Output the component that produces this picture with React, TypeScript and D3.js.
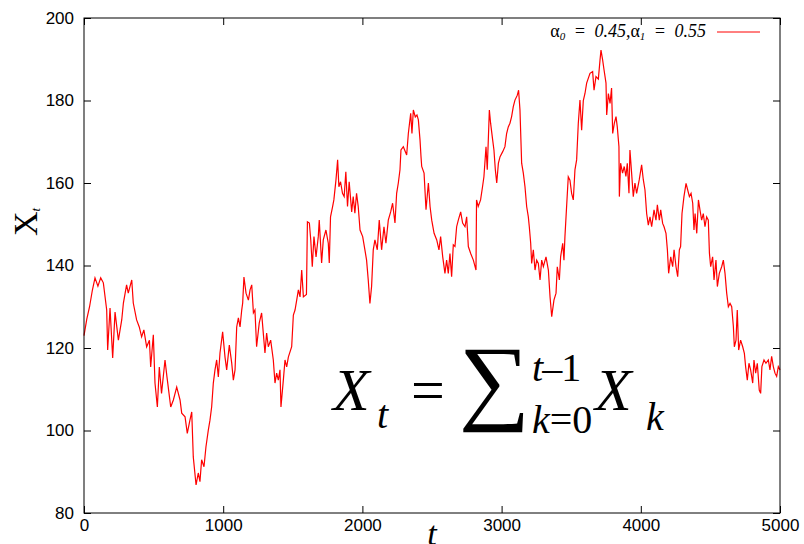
import React, { useEffect, useRef } from 'react';
import * as d3 from 'd3';

// time steps and X_t
const steps = [
  0, 20, 40, 60, 79, 100, 120, 139, 163, 170, 187, 206, 223, 247, 271, 283, 306, 318, 343, 354,
  378, 397, 414, 430, 450, 470, 479, 498, 510, 527, 541, 557, 582, 596, 623, 642, 666, 690, 702, 726,
  742, 761, 774, 785, 805, 821, 833, 845, 862, 876, 893, 905, 917, 929, 941, 953, 965, 977, 996, 1013,
  1025, 1044, 1061, 1073, 1085, 1097, 1109, 1121, 1133, 1140, 1149, 1164, 1181, 1193, 1205, 1217, 1228, 1240, 1259, 1276,
  1288, 1300, 1312, 1324, 1341, 1360, 1372, 1384, 1396, 1408, 1415, 1432, 1444, 1456, 1468, 1492, 1504, 1516, 1528, 1540,
  1552, 1564, 1576, 1598, 1605, 1619, 1629, 1640, 1652, 1667, 1683, 1690, 1707, 1719, 1738, 1755, 1762, 1771, 1786, 1795,
  1810, 1822, 1831, 1843, 1857, 1869, 1881, 1893, 1905, 1923, 1934, 1946, 1958, 1970, 1983, 2002, 2018, 2030, 2042, 2054,
  2066, 2078, 2090, 2107, 2121, 2138, 2155, 2169, 2186, 2203, 2217, 2234, 2246, 2258, 2270, 2277, 2294, 2318, 2330, 2347,
  2356, 2366, 2380, 2392, 2402, 2414, 2421, 2426, 2443, 2457, 2474, 2486, 2498, 2515, 2534, 2550, 2562, 2577, 2593, 2605,
  2617, 2629, 2641, 2653, 2665, 2677, 2689, 2706, 2720, 2737, 2749, 2761, 2778, 2797, 2816, 2820, 2832, 2849, 2863, 2873,
  2888, 2897, 2912, 2921, 2936, 2945, 2955, 2965, 2977, 2989, 3008, 3024, 3036, 3048, 3060, 3072, 3084, 3096, 3113, 3122,
  3132, 3144, 3156, 3168, 3180, 3192, 3199, 3209, 3216, 3228, 3240, 3252, 3264, 3276, 3288, 3300, 3319, 3336, 3348, 3360,
  3376, 3391, 3400, 3415, 3424, 3439, 3448, 3455, 3467, 3479, 3491, 3503, 3515, 3527, 3539, 3551, 3563, 3575, 3587, 3599,
  3611, 3635, 3654, 3664, 3678, 3695, 3707, 3714, 3726, 3736, 3750, 3755, 3767, 3779, 3790, 3798, 3810, 3822, 3831, 3843,
  3846, 3855, 3869, 3881, 3893, 3903, 3915, 3922, 3934, 3946, 3958, 3970, 3989, 4006, 4018, 4030, 4042, 4054, 4066, 4078,
  4095, 4109, 4119, 4133, 4143, 4157, 4167, 4181, 4191, 4200, 4215, 4229, 4239, 4253, 4265, 4277, 4286, 4296, 4310, 4325,
  4337, 4349, 4361, 4373, 4382, 4390, 4402, 4414, 4425, 4437, 4449, 4461, 4473, 4485, 4493, 4502, 4516, 4526, 4540, 4550,
  4564, 4581, 4593, 4605, 4617, 4629, 4641, 4653, 4665, 4672, 4684, 4693, 4703, 4717, 4732, 4744, 4753, 4765, 4777, 4789,
  4804, 4813, 4825, 4837, 4851, 4861, 4870, 4885, 4899, 4916, 4928, 4940, 4952, 4964, 4976, 4988, 5000,
];

const walk = [
  123, 127, 130, 134, 137, 135, 137, 135.8, 129.2, 119.5, 129.7, 117.6, 128.7, 121.9, 126.8, 130.9, 135.3, 133.3, 136.5, 130.9,
  126.8, 125.1, 122.7, 124.4, 120.3, 121.9, 115.4, 123.2, 111.5, 105.7, 115.4, 109, 117.1, 113, 105.7, 107.4, 110.5, 107.4, 104.2, 103.3,
  99.3, 102.5, 104.5, 93.6, 86.8, 89.7, 87.6, 92.9, 91.2, 96, 100.1, 102.5, 105.7, 111.5, 114.7, 117.1, 113, 118.8, 123.9, 117.8,
  114.7, 120.7, 116.4, 112.2, 114.7, 125.1, 127.3, 125.1, 129.2, 130.9, 137.2, 133.3, 131.6, 134.1, 135.3, 128.5, 129.2, 120.3, 126.1, 128.5,
  123.6, 118.8, 123.6, 120.3, 121.9, 117.1, 111.5, 113.9, 112.2, 114.7, 105.7, 112.2, 117.1, 115.4, 117.8, 120.3, 128, 129.2, 131.6, 134.1,
  132.4, 138.9, 132.4, 133, 150.6, 150.3, 146.2, 139.7, 147, 142.1, 147, 151, 140.6, 146.2, 148.6, 145.4, 140.6, 151.8, 154.3, 155.9,
  160.7, 165.6, 159.1, 160.3, 157.5, 156.7, 162.7, 154.3, 160.3, 153, 156.7, 152.7, 157.5, 154.3, 148.6, 147, 143.8, 141.3, 136.5, 130.8,
  134.9, 143.8, 146.2, 143.8, 151, 143.8, 149.4, 145.4, 151, 153, 155.1, 150.3, 157.5, 160, 163.2, 168, 168.8, 166.8, 172, 176.9,
  172, 177.7, 176, 176.5, 175.3, 170.4, 166.4, 164, 162.4, 153.5, 160, 154.3, 151, 147.8, 146.2, 143.8, 147, 142.1, 138.1, 141.3,
  138.1, 142.9, 137.3, 145, 144.6, 149.4, 151, 153, 150.3, 149.4, 151.8, 144.6, 142.9, 141.3, 138.9, 155.9, 154.3, 155.9, 159.1, 161.5,
  168.8, 163.2, 177.7, 174.5, 170.4, 168, 163.2, 160, 164.8, 166.4, 167.6, 168.8, 172, 173.6, 174.5, 176.1, 178.5, 180.1, 181.3, 182.5,
  177.7, 164.8, 162.4, 159.1, 154.3, 151.8, 149.4, 145.4, 140.5, 143.8, 138.9, 141.3, 140.5, 136.5, 141.3, 139.7, 142.1, 138.9, 132.4, 127.6,
  131.6, 133.3, 139.7, 136.5, 142.1, 145.4, 141.3, 147, 154.3, 161.5, 160.7, 157.5, 155.9, 163.2, 165.6, 174.5, 180.1, 172.8, 180, 181.7,
  184.2, 186.6, 187, 182.5, 185.8, 185.2, 189.8, 192.2, 189.8, 187.4, 184.2, 176.5, 181.7, 179.3, 183, 172, 174.5, 176.1, 173.6, 168.8,
  156.7, 164.8, 162.4, 164, 161.6, 164.8, 157.5, 168, 162.4, 156.7, 160, 157.5, 160.8, 164.4, 160.8, 158.3, 152.6, 149.8, 151.8, 149.4,
  153.5, 151, 154.7, 151, 153.5, 150.2, 149.4, 147.8, 143.8, 138.1, 142.1, 139.7, 143.8, 139.7, 137.3, 143.8, 144.6, 152.6, 156.7, 159.9,
  158.3, 156.7, 157.5, 155.1, 148.6, 152.6, 147.8, 155.9, 153.5, 151, 152.6, 149.4, 151.8, 151, 143, 139.7, 142.1, 136.5, 141.3, 134.9,
  138.1, 139.7, 141.3, 138.1, 133.3, 130, 130.8, 130, 125.2, 120.3, 121.9, 129.2, 119.5, 121.9, 120.3, 118.7, 115.5, 112.2, 116.3, 114.7,
  111.5, 117.1, 113.9, 116.3, 109.8, 109, 115.5, 117.1, 116.3, 117.1, 114.7, 118, 115.5, 113.9, 113.1, 115.5, 114.7,
];

const xTicks = [0, 1000, 2000, 3000, 4000, 5000];
const yTicks = [80, 100, 120, 140, 160, 180, 200];

const W = 804;
const H = 544;
const left = 84, right = 780, top = 18, bottom = 513;
const serif = '"Liberation Serif", "Times New Roman", serif';
const sans = '"Liberation Sans", Arial, sans-serif';

export default function App() {
  const ref = useRef<SVGSVGElement>(null);

  useEffect(() => {
    if (!ref.current) return;
    const svg = d3.select(ref.current);
    svg.selectAll('*').remove();

    const x = d3.scaleLinear().domain([0, 5000]).range([left, right]);
    const y = d3.scaleLinear().domain([80, 200]).range([bottom, top]);

    const styleAxis = (g: any) => {
      g.select('.domain').remove();
      g.selectAll('line').attr('stroke', '#000').attr('stroke-width', 1);
      g.selectAll('text').attr('font-family', sans).attr('font-size', 17).attr('fill', '#000');
    };

    svg.append('g').attr('transform', `translate(0,${bottom})`)
      .call(d3.axisBottom(x).tickValues(xTicks).tickSize(-7).tickPadding(6).tickFormat(d3.format('d')))
      .call(styleAxis);
    svg.append('g').attr('transform', `translate(0,${top})`)
      .call(d3.axisTop(x).tickValues(xTicks).tickSize(-7).tickFormat(() => ''))
      .call(styleAxis);
    svg.append('g').attr('transform', `translate(${left},0)`)
      .call(d3.axisLeft(y).tickValues(yTicks).tickSize(-7).tickPadding(10).tickFormat(d3.format('d')))
      .call(styleAxis);
    svg.append('g').attr('transform', `translate(${right},0)`)
      .call(d3.axisRight(y).tickValues(yTicks).tickSize(-7).tickFormat(() => ''))
      .call(styleAxis);

    const line = d3.line<number>()
      .x((_, i) => x(steps[i]))
      .y(d => y(d));

    svg.append('path')
      .datum(walk)
      .attr('d', line)
      .attr('fill', 'none')
      .attr('stroke', '#ff0000')
      .attr('stroke-width', 1.2);

    svg.append('rect')
      .attr('x', left).attr('y', top)
      .attr('width', right - left).attr('height', bottom - top)
      .attr('fill', 'none').attr('stroke', '#000').attr('stroke-width', 1);

    // legend
    const lg = svg.append('text')
      .attr('x', 706).attr('y', 37)
      .attr('text-anchor', 'end')
      .attr('word-spacing', 4)
      .attr('font-family', serif).attr('font-size', 18).attr('fill', '#000');
    lg.append('tspan').text('α');
    lg.append('tspan').attr('font-size', 11).attr('font-style', 'italic').attr('dy', 3).text('0');
    lg.append('tspan').attr('font-style', 'italic').attr('dy', -3).text(' = 0.45,');
    lg.append('tspan').text('α');
    lg.append('tspan').attr('font-size', 11).attr('font-style', 'italic').attr('dy', 3).text('1');
    lg.append('tspan').attr('font-style', 'italic').attr('dy', -3).text(' = 0.55');
    svg.append('line')
      .attr('x1', 717).attr('x2', 760).attr('y1', 32).attr('y2', 32)
      .attr('stroke', '#ff0000').attr('stroke-width', 1);

    // axis titles
    const yl = svg.append('text')
      .attr('transform', 'translate(37,236) rotate(-90)')
      .attr('font-family', serif).attr('font-size', 34);
    yl.append('tspan').text('X');
    yl.append('tspan').attr('font-size', 13).attr('font-style', 'italic').attr('dy', 3).text('t');

    svg.append('text')
      .attr('x', 432).attr('y', 545)
      .attr('text-anchor', 'middle')
      .attr('font-family', serif).attr('font-size', 34).attr('font-style', 'italic')
      .text('t');

    // formula
    const f = svg.append('g').attr('font-family', serif).attr('fill', '#000');
    f.append('text').attr('x', 333).attr('y', 410).attr('font-size', 60).attr('font-style', 'italic').text('X');
    f.append('text').attr('x', 377).attr('y', 428).attr('font-size', 40).attr('font-style', 'italic').text('t');
    f.append('text').attr('x', 411).attr('y', 410).attr('font-size', 60).text('=');
    f.append('text')
      .attr('transform', 'translate(459,412) scale(1,0.95)')
      .attr('font-size', 100).text('∑');
    const sup = f.append('text').attr('x', 532).attr('y', 381).attr('font-size', 40).attr('letter-spacing', -1);
    sup.append('tspan').attr('font-style', 'italic').text('t');
    sup.append('tspan').text('–1');
    const sub = f.append('text').attr('x', 532).attr('y', 433).attr('font-size', 40);
    sub.append('tspan').attr('font-style', 'italic').text('k');
    sub.append('tspan').text('=0');
    f.append('text').attr('x', 595).attr('y', 410).attr('font-size', 60).attr('font-style', 'italic').text('X');
    f.append('text').attr('x', 646).attr('y', 430).attr('font-size', 40).attr('font-style', 'italic').text('k');
  }, []);

  return (
    <svg
      ref={ref}
      width={W}
      height={H}
      style={{ position: 'absolute', left: 0, top: 0, background: '#fff' }}
    />
  );
}
